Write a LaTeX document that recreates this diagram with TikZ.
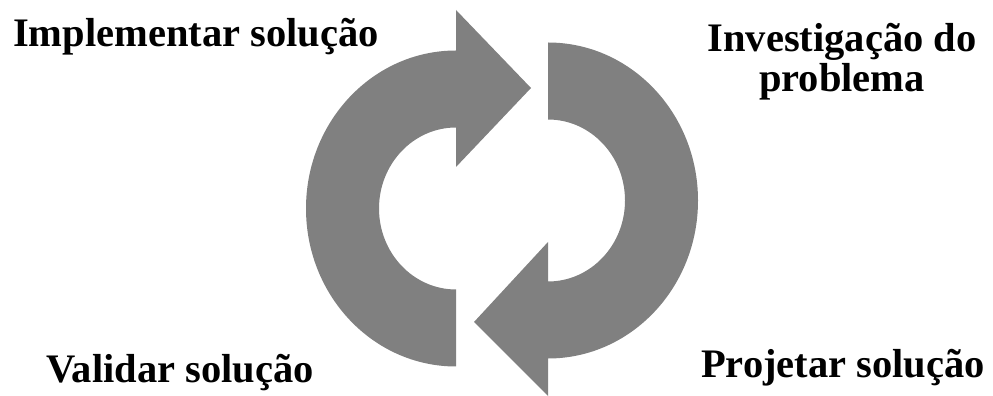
\documentclass[tikz,border=0pt]{standalone}
\usepackage{fontspec}
\setmainfont{Liberation Serif}
\tikzset{
  cycarrow/.style={fill=gray, draw=none},
  phase/.style={font=\bfseries\fontsize{40.5}{40}\selectfont,
    anchor=base, align=center, inner sep=0pt},
}

\begin{document}
\begin{tikzpicture}[x=1pt, y=1pt]
  \useasboundingbox (0,0) rectangle (993,396);

  % ----- left arrow (points right, at the top) ------------------------------
  \fill[cycarrow] (456,29.5)
    arc[start angle=270, end angle=90, x radius=150pt, y radius=158pt]
    -- (456,386) -- (531,308) -- (456,229) -- (456,268.5)
    arc[start angle=90, end angle=270, x radius=77pt, y radius=81pt]
    -- cycle;

  % ----- right arrow (points left, at the bottom) ---------------------------
  \fill[cycarrow] (548,353.5)
    arc[start angle=90, end angle=-90, x radius=150pt, y radius=158pt]
    -- (548,0) -- (474,74) -- (548,154) -- (548,114.5)
    arc[start angle=-90, end angle=90, x radius=77pt, y radius=81pt]
    -- cycle;

  % ----- phase labels -------------------------------------------------------
  \node[phase] (impl) at (196,349) {Implementar solução};
  \node[phase] (inv)  at (842,304) {Investigação do\\problema};
  \node[phase] (valid) at (180,13) {Validar solução};
  \node[phase] (proj) at (843,18)  {Projetar solução};

\end{tikzpicture}
\end{document}
